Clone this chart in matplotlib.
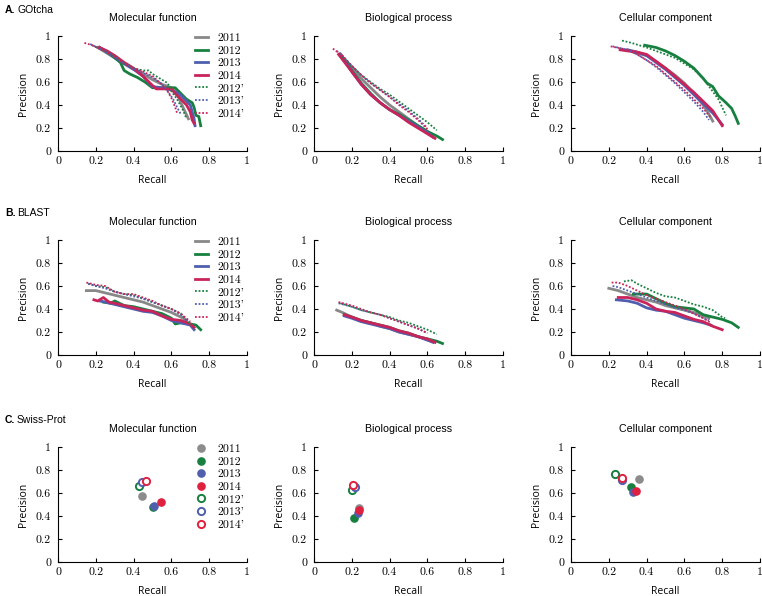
import matplotlib
matplotlib.use("Agg")
import matplotlib.pyplot as plt

# series labels and colours
years = ["2011", "2012", "2013", "2014", "2012'", "2013'", "2014'"]
colors = {"2011": "#888888", "2012": "#17803f", "2013": "#4f5fae", "2014": "#c9245a",
          "2012'": "#17803f", "2013'": "#4f5fae", "2014'": "#c9245a"}
scatter_colors = {"2011": "#8c8c8c", "2012": "#17803f", "2013": "#4f5fae", "2014": "#e0203f",
                  "2012'": "#17803f", "2013'": "#4f5fae", "2014'": "#e0203f"}

rows = ["A. GOtcha", "B. BLAST", "C. Swiss-Prot"]
cols = ["Molecular function", "Biological process", "Cellular component"]
ticks = [0, 0.2, 0.4, 0.6, 0.8, 1]
tick_labels = ["0", "0.2", "0.4", "0.6", "0.8", "1"]

# ---- A. GOtcha (recall, precision) ----
gotcha_mf = {
    "2011": ([0.21, 0.25, 0.3, 0.35, 0.4, 0.45, 0.5, 0.55, 0.6, 0.63, 0.65, 0.67, 0.69],
             [0.90, 0.86, 0.81, 0.76, 0.71, 0.67, 0.62, 0.58, 0.55, 0.50, 0.42, 0.35, 0.28]),
    "2012": ([0.22, 0.26, 0.3, 0.33, 0.35, 0.38, 0.42, 0.46, 0.5, 0.55, 0.6, 0.62, 0.65, 0.68, 0.71, 0.72, 0.73, 0.745, 0.755],
             [0.90, 0.86, 0.81, 0.77, 0.70, 0.67, 0.64, 0.60, 0.55, 0.55, 0.55, 0.55, 0.50, 0.45, 0.42, 0.38, 0.31, 0.30, 0.22]),
    "2013": ([0.22, 0.26, 0.3, 0.35, 0.4, 0.45, 0.5, 0.55, 0.6, 0.64, 0.67, 0.70, 0.71, 0.72, 0.725],
             [0.90, 0.86, 0.82, 0.76, 0.71, 0.65, 0.56, 0.55, 0.53, 0.50, 0.45, 0.40, 0.34, 0.28, 0.22]),
    "2014": ([0.22, 0.26, 0.3, 0.35, 0.4, 0.45, 0.5, 0.52, 0.56, 0.6, 0.62, 0.65, 0.68, 0.7, 0.71, 0.72],
             [0.90, 0.87, 0.83, 0.77, 0.72, 0.65, 0.57, 0.54, 0.54, 0.54, 0.50, 0.45, 0.40, 0.34, 0.27, 0.24]),
    "2012'": ([0.18, 0.22, 0.26, 0.3, 0.35, 0.4, 0.45, 0.48, 0.5, 0.55, 0.58, 0.6, 0.63, 0.66, 0.68],
              [0.92, 0.89, 0.86, 0.82, 0.76, 0.72, 0.70, 0.70, 0.67, 0.62, 0.59, 0.52, 0.45, 0.36, 0.28]),
    "2013'": ([0.17, 0.22, 0.26, 0.3, 0.35, 0.4, 0.45, 0.5, 0.55, 0.58, 0.61, 0.63, 0.65],
              [0.93, 0.89, 0.86, 0.82, 0.76, 0.72, 0.68, 0.64, 0.58, 0.52, 0.45, 0.38, 0.32]),
    "2014'": ([0.14, 0.18, 0.22, 0.26, 0.3, 0.35, 0.4, 0.45, 0.5, 0.55, 0.58, 0.6, 0.62, 0.63],
              [0.94, 0.92, 0.89, 0.86, 0.82, 0.76, 0.72, 0.69, 0.65, 0.58, 0.52, 0.46, 0.38, 0.33]),
}
gotcha_bp = {
    "2011": ([0.14, 0.2, 0.25, 0.3, 0.35, 0.4, 0.45, 0.5, 0.55, 0.6, 0.62],
             [0.84, 0.72, 0.63, 0.55, 0.47, 0.40, 0.34, 0.28, 0.22, 0.17, 0.14]),
    "2012": ([0.14, 0.2, 0.25, 0.3, 0.35, 0.4, 0.45, 0.5, 0.55, 0.6, 0.65, 0.68],
             [0.84, 0.70, 0.59, 0.50, 0.42, 0.36, 0.32, 0.27, 0.22, 0.17, 0.13, 0.10]),
    "2013": ([0.14, 0.2, 0.25, 0.3, 0.35, 0.4, 0.45, 0.5, 0.55, 0.6, 0.63],
             [0.84, 0.69, 0.58, 0.49, 0.42, 0.36, 0.31, 0.26, 0.21, 0.16, 0.12]),
    "2014": ([0.13, 0.2, 0.25, 0.3, 0.35, 0.4, 0.45, 0.5, 0.55, 0.6, 0.64],
             [0.84, 0.69, 0.58, 0.49, 0.42, 0.36, 0.31, 0.25, 0.20, 0.15, 0.11]),
    "2012'": ([0.15, 0.2, 0.25, 0.3, 0.35, 0.4, 0.45, 0.5, 0.55, 0.6, 0.65],
              [0.82, 0.74, 0.66, 0.60, 0.54, 0.49, 0.43, 0.37, 0.31, 0.25, 0.18]),
    "2013'": ([0.12, 0.15, 0.2, 0.25, 0.3, 0.35, 0.4, 0.45, 0.5, 0.55, 0.6],
              [0.87, 0.83, 0.74, 0.66, 0.59, 0.53, 0.47, 0.41, 0.35, 0.28, 0.20]),
    "2014'": ([0.1, 0.15, 0.2, 0.25, 0.3, 0.35, 0.4, 0.45, 0.5, 0.55, 0.6],
              [0.89, 0.83, 0.74, 0.66, 0.59, 0.53, 0.47, 0.40, 0.34, 0.27, 0.19]),
}
gotcha_cc = {
    "2011": ([0.33, 0.4, 0.45, 0.5, 0.55, 0.6, 0.65, 0.7, 0.73, 0.75],
             [0.86, 0.83, 0.78, 0.72, 0.66, 0.59, 0.50, 0.40, 0.32, 0.26]),
    "2012": ([0.39, 0.45, 0.5, 0.55, 0.6, 0.65, 0.7, 0.72, 0.75, 0.78, 0.82, 0.85, 0.87, 0.885],
             [0.92, 0.90, 0.87, 0.83, 0.78, 0.72, 0.63, 0.59, 0.56, 0.48, 0.42, 0.37, 0.30, 0.24]),
    "2013": ([0.3, 0.35, 0.4, 0.45, 0.5, 0.55, 0.6, 0.65, 0.7, 0.75, 0.8],
             [0.88, 0.86, 0.83, 0.77, 0.71, 0.64, 0.57, 0.49, 0.41, 0.33, 0.23]),
    "2014": ([0.26, 0.3, 0.35, 0.4, 0.45, 0.5, 0.55, 0.6, 0.65, 0.7, 0.75, 0.8],
             [0.88, 0.87, 0.86, 0.84, 0.78, 0.72, 0.65, 0.58, 0.51, 0.43, 0.35, 0.22]),
    "2012'": ([0.27, 0.32, 0.4, 0.45, 0.5, 0.55, 0.6, 0.65, 0.7, 0.74, 0.78, 0.82],
              [0.96, 0.94, 0.90, 0.87, 0.84, 0.81, 0.76, 0.71, 0.63, 0.54, 0.45, 0.31]),
    "2013'": ([0.22, 0.3, 0.35, 0.4, 0.45, 0.5, 0.55, 0.6, 0.65, 0.7, 0.73],
              [0.91, 0.88, 0.84, 0.79, 0.73, 0.66, 0.59, 0.51, 0.43, 0.34, 0.27]),
    "2014'": ([0.21, 0.3, 0.35, 0.4, 0.45, 0.5, 0.55, 0.6, 0.65, 0.7, 0.74],
              [0.91, 0.88, 0.84, 0.79, 0.74, 0.67, 0.60, 0.53, 0.45, 0.37, 0.29]),
}

# ---- B. BLAST ----
blast_mf = {
    "2011": ([0.15, 0.2, 0.25, 0.3, 0.35, 0.4, 0.45, 0.5, 0.55, 0.6, 0.65, 0.68],
             [0.56, 0.56, 0.54, 0.52, 0.50, 0.48, 0.46, 0.43, 0.40, 0.37, 0.33, 0.30]),
    "2012": ([0.24, 0.28, 0.3, 0.35, 0.4, 0.45, 0.5, 0.55, 0.6, 0.62, 0.65, 0.7, 0.73, 0.755],
             [0.46, 0.45, 0.47, 0.43, 0.42, 0.40, 0.38, 0.36, 0.32, 0.27, 0.28, 0.27, 0.26, 0.22]),
    "2013": ([0.22, 0.25, 0.3, 0.35, 0.4, 0.45, 0.5, 0.55, 0.6, 0.65, 0.7, 0.72],
             [0.47, 0.46, 0.44, 0.42, 0.40, 0.38, 0.37, 0.34, 0.30, 0.28, 0.26, 0.22]),
    "2014": ([0.19, 0.21, 0.24, 0.27, 0.3, 0.35, 0.4, 0.45, 0.5, 0.55, 0.6, 0.65, 0.7, 0.72],
             [0.48, 0.47, 0.50, 0.46, 0.45, 0.43, 0.41, 0.39, 0.38, 0.34, 0.31, 0.30, 0.27, 0.24]),
    "2012'": ([0.16, 0.2, 0.25, 0.3, 0.35, 0.4, 0.45, 0.5, 0.55, 0.6, 0.65, 0.68, 0.7],
              [0.62, 0.60, 0.59, 0.55, 0.53, 0.52, 0.49, 0.46, 0.43, 0.40, 0.36, 0.30, 0.26]),
    "2013'": ([0.16, 0.2, 0.25, 0.3, 0.35, 0.4, 0.45, 0.5, 0.55, 0.6, 0.65, 0.69],
              [0.62, 0.60, 0.58, 0.55, 0.53, 0.51, 0.49, 0.46, 0.43, 0.40, 0.35, 0.29]),
    "2014'": ([0.15, 0.2, 0.25, 0.3, 0.35, 0.4, 0.45, 0.5, 0.55, 0.6, 0.65, 0.7],
              [0.63, 0.61, 0.60, 0.55, 0.53, 0.53, 0.50, 0.47, 0.43, 0.40, 0.36, 0.29]),
}
blast_bp = {
    "2011": ([0.12, 0.15, 0.2, 0.25, 0.3, 0.35, 0.4, 0.45, 0.5, 0.55, 0.6, 0.62],
             [0.39, 0.37, 0.33, 0.30, 0.28, 0.25, 0.23, 0.20, 0.18, 0.16, 0.13, 0.12]),
    "2012": ([0.16, 0.2, 0.25, 0.3, 0.35, 0.4, 0.45, 0.5, 0.55, 0.6, 0.65, 0.68],
             [0.35, 0.33, 0.30, 0.28, 0.26, 0.24, 0.21, 0.19, 0.16, 0.14, 0.12, 0.10]),
    "2013": ([0.16, 0.2, 0.25, 0.3, 0.35, 0.4, 0.45, 0.5, 0.55, 0.6, 0.63],
             [0.34, 0.32, 0.29, 0.27, 0.25, 0.23, 0.20, 0.18, 0.16, 0.13, 0.11]),
    "2014": ([0.16, 0.2, 0.25, 0.3, 0.35, 0.4, 0.45, 0.5, 0.55, 0.6, 0.64],
             [0.35, 0.33, 0.30, 0.28, 0.26, 0.24, 0.21, 0.19, 0.16, 0.14, 0.11]),
    "2012'": ([0.14, 0.2, 0.25, 0.3, 0.35, 0.4, 0.45, 0.5, 0.55, 0.6, 0.65],
              [0.45, 0.42, 0.39, 0.37, 0.35, 0.33, 0.30, 0.28, 0.25, 0.22, 0.18]),
    "2013'": ([0.13, 0.2, 0.25, 0.3, 0.35, 0.4, 0.45, 0.5, 0.55, 0.6],
              [0.45, 0.42, 0.39, 0.37, 0.35, 0.32, 0.29, 0.26, 0.23, 0.19]),
    "2014'": ([0.13, 0.2, 0.25, 0.3, 0.35, 0.4, 0.45, 0.5, 0.55, 0.6],
              [0.46, 0.43, 0.40, 0.37, 0.35, 0.32, 0.29, 0.26, 0.23, 0.19]),
}
blast_cc = {
    "2011": ([0.2, 0.25, 0.3, 0.35, 0.4, 0.45, 0.5, 0.55, 0.6, 0.65, 0.7, 0.73],
             [0.58, 0.56, 0.53, 0.50, 0.48, 0.46, 0.43, 0.41, 0.39, 0.37, 0.34, 0.32]),
    "2012": ([0.33, 0.36, 0.4, 0.45, 0.5, 0.55, 0.6, 0.65, 0.7, 0.75, 0.8, 0.85, 0.885],
             [0.53, 0.53, 0.53, 0.49, 0.45, 0.42, 0.41, 0.40, 0.35, 0.33, 0.31, 0.28, 0.24]),
    "2013": ([0.24, 0.3, 0.35, 0.4, 0.45, 0.5, 0.55, 0.6, 0.65, 0.7, 0.74],
             [0.48, 0.47, 0.45, 0.41, 0.39, 0.38, 0.35, 0.32, 0.30, 0.28, 0.26]),
    "2014": ([0.25, 0.3, 0.35, 0.4, 0.45, 0.5, 0.55, 0.6, 0.65, 0.7, 0.75, 0.8],
             [0.50, 0.50, 0.48, 0.45, 0.40, 0.38, 0.37, 0.34, 0.31, 0.29, 0.25, 0.22]),
    "2012'": ([0.28, 0.32, 0.35, 0.4, 0.45, 0.5, 0.55, 0.6, 0.65, 0.7, 0.75, 0.8, 0.815],
              [0.64, 0.65, 0.62, 0.58, 0.54, 0.51, 0.50, 0.47, 0.44, 0.42, 0.39, 0.33, 0.32]),
    "2013'": ([0.22, 0.25, 0.3, 0.35, 0.4, 0.45, 0.5, 0.55, 0.6, 0.65, 0.7, 0.73],
              [0.60, 0.59, 0.56, 0.53, 0.50, 0.47, 0.44, 0.41, 0.39, 0.36, 0.32, 0.30]),
    "2014'": ([0.215, 0.25, 0.3, 0.35, 0.4, 0.45, 0.5, 0.55, 0.6, 0.65, 0.7, 0.74],
              [0.63, 0.63, 0.60, 0.56, 0.52, 0.49, 0.46, 0.43, 0.40, 0.36, 0.32, 0.28]),
}

# ---- C. Swiss-Prot (single points) ----
swiss_mf_r = [0.445, 0.50, 0.51, 0.545, 0.43, 0.442, 0.465]
swiss_mf_p = [0.57, 0.48, 0.49, 0.52, 0.66, 0.695, 0.705]
swiss_bp_r = [0.236, 0.21, 0.235, 0.236, 0.20, 0.217, 0.208]
swiss_bp_p = [0.472, 0.383, 0.426, 0.455, 0.623, 0.652, 0.667]
swiss_cc_r = [0.358, 0.316, 0.328, 0.344, 0.233, 0.268, 0.272]
swiss_cc_p = [0.719, 0.652, 0.609, 0.617, 0.762, 0.716, 0.730]

line_data = [[gotcha_mf, gotcha_bp, gotcha_cc], [blast_mf, blast_bp, blast_cc]]
point_data = [(swiss_mf_r, swiss_mf_p), (swiss_bp_r, swiss_bp_p), (swiss_cc_r, swiss_cc_p)]

W, H = 762, 596
fig = plt.figure(figsize=(W / 100, H / 100), dpi=100)

col_left = [58, 314, 571]
row_bottom = [151, 355, 562]
ax_w, ax_h = 189, 115
label_y = [5, 208, 415]

serif = "cmr10"
sans = "Liberation Sans"


def style_axes(ax, title):
    ax.set_xlim(0, 1)
    ax.set_ylim(0, 1)
    for s in ["top", "right"]:
        ax.spines[s].set_visible(False)
    for s in ["left", "bottom"]:
        ax.spines[s].set_linewidth(0.8)
    ax.set_xticks(ticks, tick_labels)
    ax.set_yticks(ticks, tick_labels)
    ax.tick_params(direction="in", length=3, width=0.8, labelsize=8.5)
    ax.tick_params(axis="x", pad=4)
    ax.tick_params(axis="y", pad=5)
    for lab in ax.get_xticklabels() + ax.get_yticklabels():
        lab.set_fontfamily(serif)
    ax.set_xlabel("Recall", fontsize=7.5, family="Open Sans", labelpad=6.5)
    ax.set_ylabel("Precision", fontsize=7.5, family="Open Sans", labelpad=5)
    ax.set_title(title, fontsize=7.7, family=sans, pad=11)
    ax.patch.set_alpha(0)


for ri in range(3):
    for ci in range(3):
        ax = fig.add_axes([col_left[ci] / W, 1 - row_bottom[ri] / H, ax_w / W, ax_h / H])
        if ri < 2:
            d = line_data[ri][ci]
            for y in years:
                r, p = d[y]
                if "'" in y:
                    ax.plot(r, p, linestyle=(0, (1, 1)), lw=1.3, color=colors[y], label=y)
                else:
                    ax.plot(r, p, linestyle="-", lw=2.0, color=colors[y], label=y)
        else:
            rr, pp = point_data[ci]
            for i, y in enumerate(years):
                if "'" in y:
                    ax.plot(rr[i], pp[i], "o", ms=5.2, mfc="white", mec=scatter_colors[y], mew=1.4, label=y)
                else:
                    ax.plot(rr[i], pp[i], "o", ms=5.2, mfc=scatter_colors[y], mec=scatter_colors[y], label=y)
        style_axes(ax, cols[ci])
        if ci == 0:
            ax.legend(loc="upper right", bbox_to_anchor=(1.03, 1.1), frameon=False,
                      handlelength=1.1, handletextpad=0.8, labelspacing=0.2,
                      prop={"family": serif, "size": 8.5}, borderpad=0.2)
    letter, name = rows[ri].split(" ", 1)
    fig.text(5 / W, 1 - label_y[ri] / H, letter, fontsize=7.5, family=sans,
             fontweight="bold", va="top", ha="left")
    fig.text(17 / W, 1 - label_y[ri] / H, name, fontsize=7.5, family=sans, va="top", ha="left")

fig.savefig("out.png", dpi=100)
